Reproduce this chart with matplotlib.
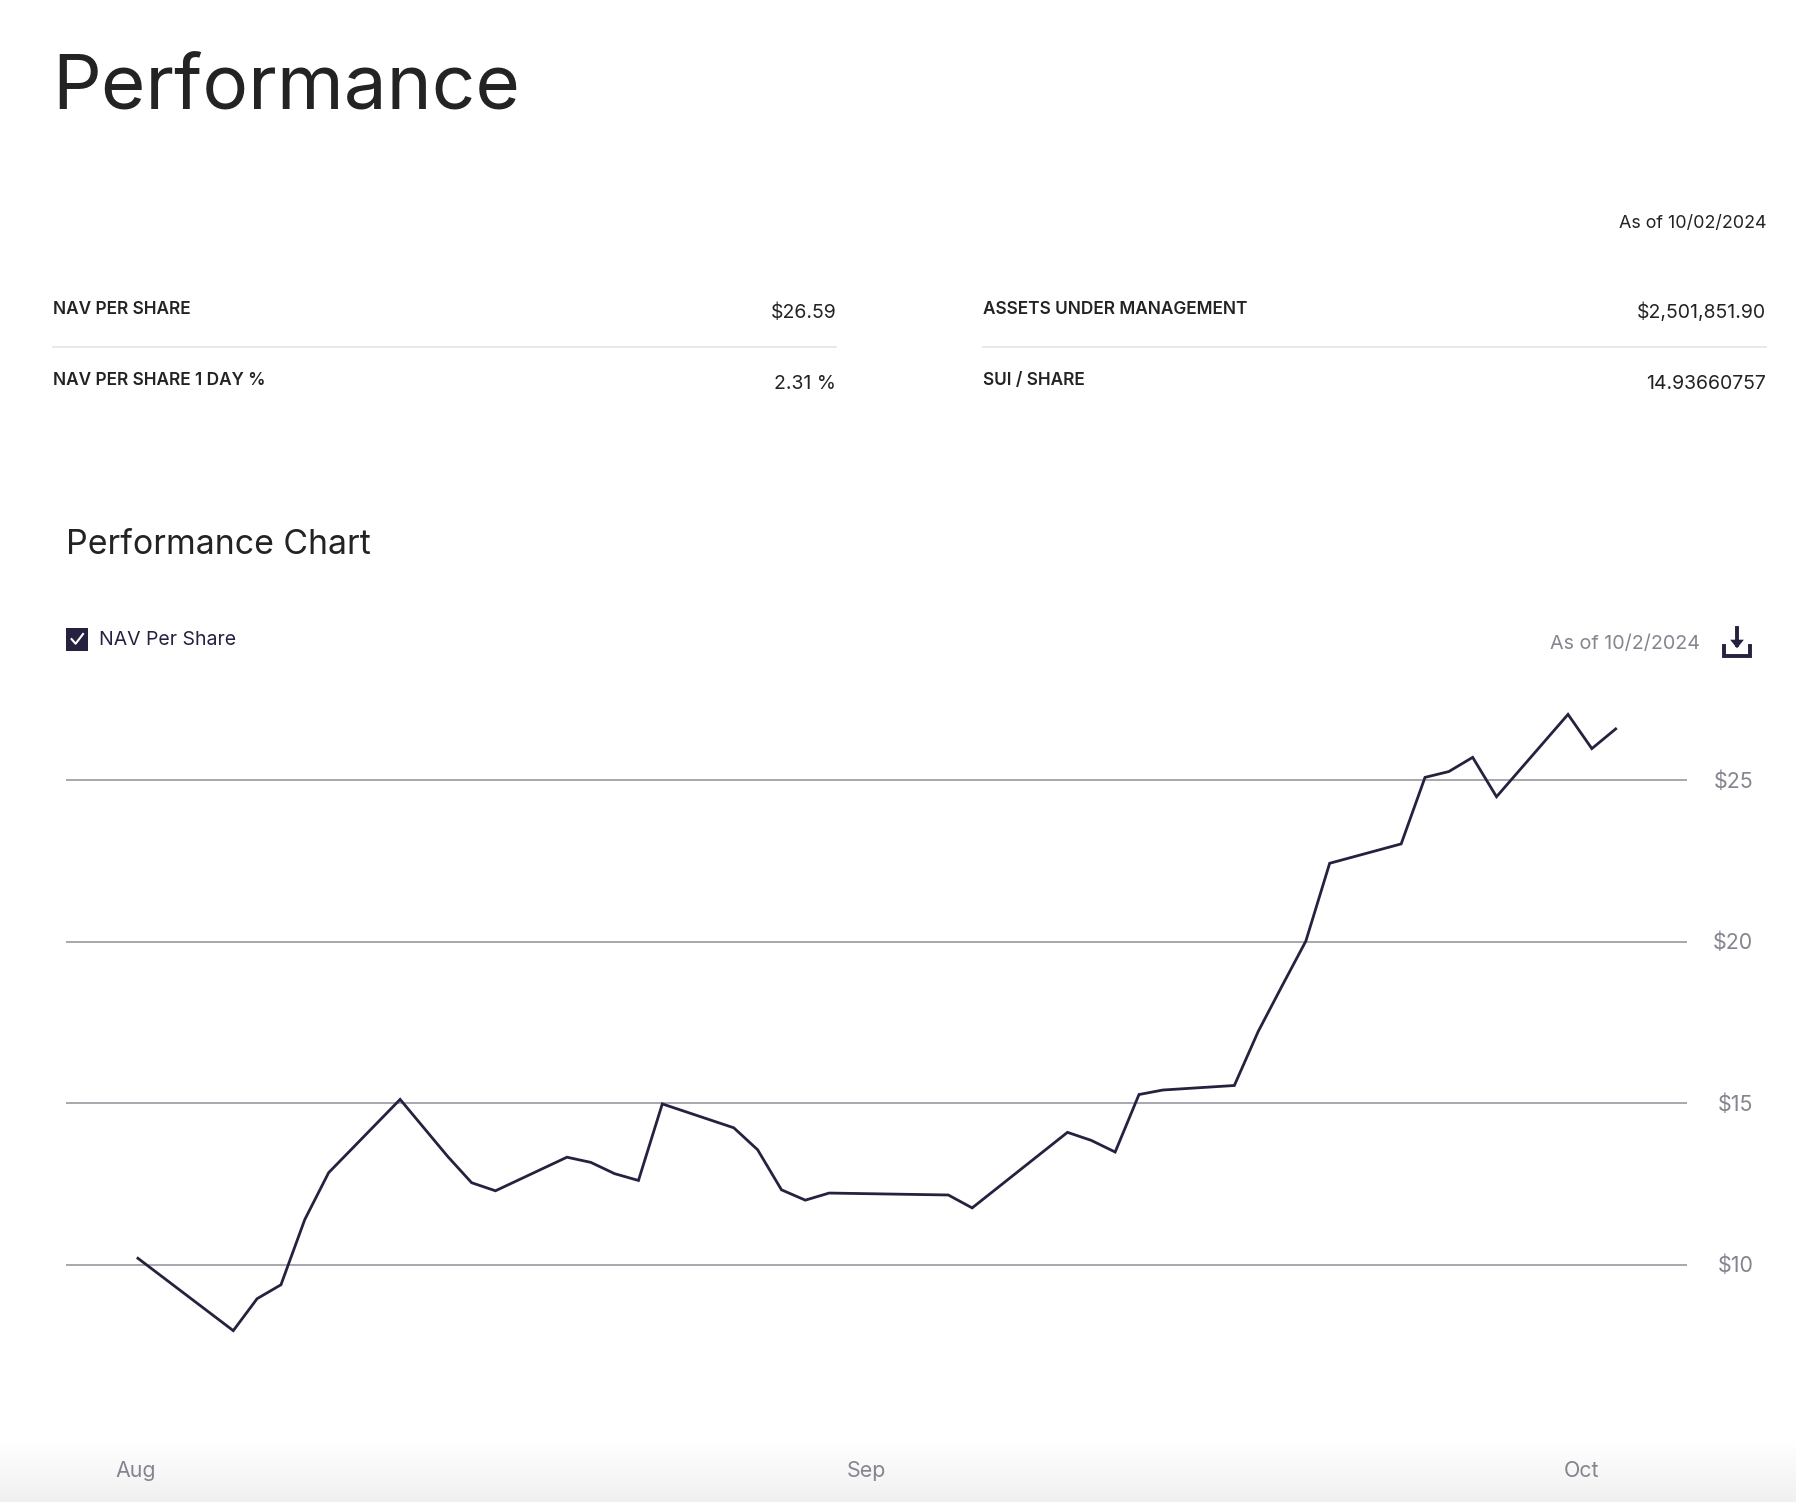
import numpy as np
import pandas as pd
import matplotlib
matplotlib.use('Agg')
import matplotlib.pyplot as plt
import matplotlib.dates as mdates
from matplotlib.patches import Rectangle
from matplotlib.transforms import ScaledTranslation

W, H = 1796, 1502
SCALE = W / 1568  # picture was measured at 1568 wide

dates = ['2024-08-01', '2024-08-05', '2024-08-06', '2024-08-07', '2024-08-08',
         '2024-08-09', '2024-08-12', '2024-08-14', '2024-08-15', '2024-08-16',
         '2024-08-19', '2024-08-20', '2024-08-21', '2024-08-22', '2024-08-23',
         '2024-08-26', '2024-08-27', '2024-08-28', '2024-08-29', '2024-08-30',
         '2024-09-04', '2024-09-05', '2024-09-09', '2024-09-10', '2024-09-11',
         '2024-09-12', '2024-09-13', '2024-09-16', '2024-09-17', '2024-09-18',
         '2024-09-19', '2024-09-20', '2024-09-23', '2024-09-24', '2024-09-25',
         '2024-09-26', '2024-09-27', '2024-09-30', '2024-10-01', '2024-10-02']
nav = [10.20, 7.96, 8.95, 9.38, 11.40, 12.85, 15.12, 13.35, 12.54, 12.29,
       13.33, 13.17, 12.82, 12.61, 14.98, 14.24, 13.56, 12.32, 12.00, 12.22,
       12.16, 11.76, 14.10, 13.85, 13.49, 15.27, 15.41, 15.55, 17.22, 18.63,
       20.02, 22.43, 23.03, 25.09, 25.27, 25.71, 24.49, 27.04, 25.98, 26.59]
y_ticks = [10, 15, 20, 25]
y_labels = ['$10', '$15', '$20', '$25']
month_ticks = ['2024-07-31 22:00', '2024-08-31 14:00', '2024-09-30 14:00']
month_labels = ['Aug', 'Sep', 'Oct']

left_rows = [('NAV PER SHARE', '$26.59'), ('NAV PER SHARE 1 DAY %', '2.31 %')]
right_rows = [('ASSETS UNDER MANAGEMENT', '$2,501,851.90'),
              ('SUI / SHARE', '14.93660757')]

INK = '#232323'
NAVY = '#25213f'
GREY = '#85858f'
FONT = 'Inter'

plt.rcParams['font.family'] = [FONT, 'DejaVu Sans']
fig = plt.figure(figsize=(W / 100, H / 100), dpi=100, facecolor='white')


def px_x(x):
    return x * SCALE / W


def px_y(y):
    return 1 - y * SCALE / H


def put(x, y, s, **kw):
    fig.text(px_x(x), px_y(y), s, **kw)


# bottom fade of the page
fade = fig.add_axes([0, 0, 1, 60 / H])
fade.imshow(np.linspace(1, 0, 64).reshape(-1, 1), aspect='auto',
            cmap=matplotlib.colors.LinearSegmentedColormap.from_list('f', ['#f0f0f1', '#ffffff']))
fade.axis('off')

# header
put(46, 96, 'Performance', fontsize=55, color=INK, va='baseline')
put(1542, 195, 'As of 10/02/2024', fontsize=12.9, color=INK, ha='right', va='center')

for x0, x1, rows in [(46, 730, left_rows), (858, 1542, right_rows)]:
    for (label, value), y in zip(rows, [274, 336]):
        put(x0, y, label, fontsize=12.4, color=INK, va='baseline', fontweight='semibold')
        put(x1, y + 4, value, fontsize=14, color=INK, ha='right', va='baseline')
    fig.add_artist(plt.Line2D([px_x(x0), px_x(x1)], [px_y(303), px_y(303)],
                              color='#e4e4e4', lw=1.2))

put(58, 484, 'Performance Chart', fontsize=24.4, color=INK, va='baseline')

# legend checkbox
fig.add_artist(Rectangle((px_x(58), px_y(568)), 19 * SCALE / W, 20 * SCALE / H,
                         transform=fig.transFigure, color=NAVY, lw=0))
fig.add_artist(plt.Line2D([px_x(62.5), px_x(66), px_x(72.5)],
                          [px_y(558), px_y(562), px_y(553.5)], color='white', lw=1.5))
put(86, 559, 'NAV Per Share', fontsize=14, color=NAVY, va='center')
put(1484, 562, 'As of 10/2/2024', fontsize=14.2, color=GREY, ha='right', va='center')

# download icon
fig.add_artist(plt.Line2D([px_x(1516.5)] * 2, [px_y(548), px_y(563)], color=NAVY, lw=2.8))
fig.add_artist(plt.Polygon([[px_x(1510.5), px_y(558.5)], [px_x(1522.5), px_y(558.5)],
                            [px_x(1516.5), px_y(566)]],
                           transform=fig.transFigure, color=NAVY, lw=0))
fig.add_artist(plt.Line2D([px_x(1505), px_x(1505), px_x(1528), px_x(1528)],
                          [px_y(564), px_y(572.5), px_y(572.5), px_y(564)],
                          color=NAVY, lw=2.8, solid_joinstyle='miter'))

# chart
ax = fig.add_axes([px_x(58), px_y(1260.7), (1473 - 58) * SCALE / W, (1260 - 590) * SCALE / H])
ax.patch.set_alpha(0)
ax.plot(pd.to_datetime(dates), nav, color=NAVY, lw=2.0, zorder=3, solid_joinstyle='miter')
ax.set_xlim(pd.Timestamp('2024-07-29'), pd.Timestamp('2024-10-05'))
ax.set_ylim(4.45, 28.21)
ax.yaxis.tick_right()
ax.set_yticks(y_ticks)
ax.set_yticklabels(y_labels, ha='right', fontsize=15.4, color=GREY)
ax.tick_params(axis='y', length=0, pad=47.5)
# labels sit a pixel above their grid lines
up = ScaledTranslation(0, 1 / 100, fig.dpi_scale_trans)
for lab in ax.get_yticklabels():
    lab.set_transform(lab.get_transform() + up)
ax.set_xticks(mdates.date2num(pd.to_datetime(month_ticks)))
ax.set_xticklabels(month_labels, fontsize=15.4, color=GREY)
ax.tick_params(axis='x', length=0, pad=12.5)
ax.grid(axis='y', color='#8f8f98', lw=1.1)
ax.set_axisbelow(True)
for side in ax.spines.values():
    side.set_visible(False)

fig.savefig('out.png', dpi=100, facecolor='white')
